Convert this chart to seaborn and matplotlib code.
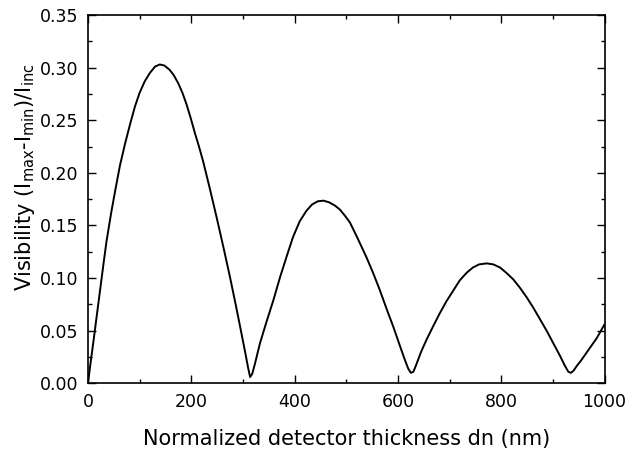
import pandas as pd
import matplotlib.pyplot as plt
import seaborn as sns

# Values
thickness = [0, 5, 11, 21, 30, 36, 45, 52, 62, 72, 82, 91, 100, 110, 120, 130,
             139, 148, 158, 166, 175, 183, 191, 199, 207, 215, 223, 236, 249,
             262, 275, 286, 297, 305, 310, 314, 318, 323, 333, 346, 359, 372,
             385, 397, 410, 423, 434, 445, 456, 467, 478, 488, 498, 507, 520,
             539, 552, 565, 578, 591, 603, 613, 620, 625, 630, 635, 645, 655,
             668, 681, 694, 707, 720, 733, 745, 757, 772, 785, 798, 810, 823,
             836, 849, 862, 875, 888, 901, 914, 923, 930, 935, 940, 947, 955,
             965, 975, 985, 1000]
visibility = [0.0, 0.019, 0.041, 0.079, 0.113, 0.135, 0.162, 0.181, 0.207,
              0.228, 0.247, 0.263, 0.276, 0.287, 0.295, 0.301, 0.303, 0.302,
              0.298, 0.293, 0.285, 0.276, 0.265, 0.252, 0.238, 0.225, 0.211,
              0.185, 0.158, 0.130, 0.101, 0.075, 0.048, 0.028, 0.015, 0.006,
              0.009, 0.018, 0.038, 0.059, 0.079, 0.101, 0.121, 0.139, 0.154,
              0.164, 0.170, 0.173, 0.1736, 0.172, 0.169, 0.165, 0.159, 0.153,
              0.140, 0.120, 0.105, 0.0887, 0.071, 0.054, 0.037, 0.023, 0.014,
              0.010, 0.011, 0.017, 0.030, 0.041, 0.054, 0.0665, 0.078, 0.088,
              0.098, 0.105, 0.110, 0.113, 0.114, 0.113, 0.110, 0.105, 0.099,
              0.091, 0.082, 0.072, 0.061, 0.050, 0.038, 0.026, 0.017, 0.011,
              0.010, 0.012, 0.017, 0.022, 0.029, 0.036, 0.043, 0.056]

data = pd.DataFrame({'thickness': thickness, 'visibility': visibility})

sns.set_style("ticks")
plt.rcParams['font.family'] = ['DejaVu Sans']
plt.rcParams['mathtext.default'] = 'regular'
plt.rcParams['text.color'] = 'black'
plt.rcParams['axes.labelcolor'] = 'black'

fig = plt.figure(figsize=(6.28, 4.51), dpi=100)
ax = fig.add_axes([0.140, 0.150, 0.8226, 0.8167])

sns.lineplot(data=data, x='thickness', y='visibility', ax=ax,
             color='black', linewidth=1.4, estimator=None, sort=False)

ax.set_xlim(0, 1000)
ax.set_ylim(0, 0.35)
ax.set_xticks([0, 200, 400, 600, 800, 1000])
ax.set_xticks(range(100, 1000, 200), minor=True)
ax.set_yticks([0.0, 0.05, 0.10, 0.15, 0.20, 0.25, 0.30, 0.35])
ax.set_yticks([0.025, 0.075, 0.125, 0.175, 0.225, 0.275, 0.325], minor=True)
ax.yaxis.set_major_formatter(plt.FormatStrFormatter('%.2f'))

ax.tick_params(which='both', direction='in', top=True, right=True,
               labelsize=12.5, width=1.0, color='black', labelcolor='black')
ax.tick_params(which='major', length=6, pad=7)
ax.tick_params(which='minor', length=3)

for spine in ax.spines.values():
    spine.set_visible(True)
    spine.set_linewidth(1.2)
    spine.set_color('black')

ax.set_xlabel('Normalized detector thickness dn (nm)', fontsize=15, labelpad=13,
              color='black')
ax.set_ylabel('Visibility (I$_{max}$-I$_{min}$)/I$_{inc}$', fontsize=15,
              color='black')
ax.yaxis.set_label_coords(-0.098, 0.56)
ax.grid(False)

fig.savefig('out.png', dpi=100)
